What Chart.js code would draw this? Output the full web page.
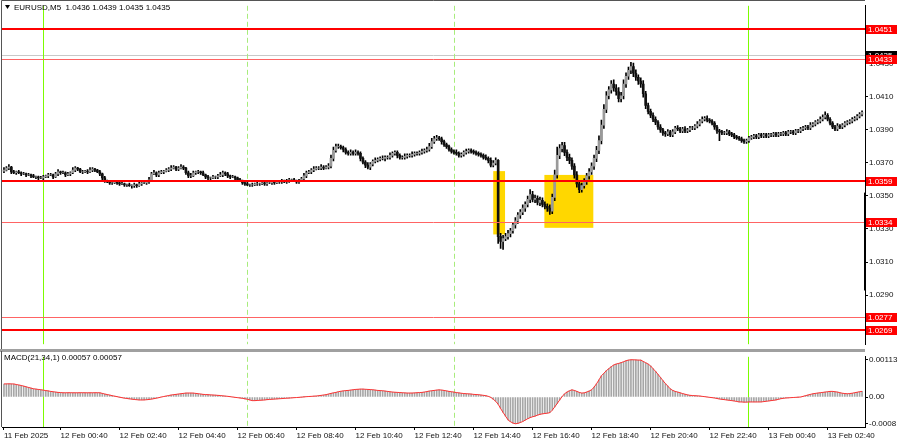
<!DOCTYPE html>
<html>
<head>
<meta charset="utf-8">
<script src="https://cdn.jsdelivr.net/npm/chart.js@4.4.1/dist/chart.umd.min.js"></script>
<style>
  body { margin: 0; background: #fff; }
  #wrap { position: relative; width: 900px; height: 441px; overflow: hidden; background: #fff; }
  #main { position: absolute; left: 0; top: 0; }
  #sep  { position: absolute; left: 0; top: 349px; width: 865px; height: 3px; background: #a0a0a0; }
  #macd { position: absolute; left: 0; top: 351px; }
</style>
</head>
<body>
<div id="wrap">
  <canvas id="main" width="900" height="350"></canvas>
  <div id="sep"></div>
  <canvas id="macd" width="900" height="90"></canvas>
</div>
<script>
// =========================
// DATA (EURUSD M5, prices in pips above BASE)
// =========================
const BASE = 1.03;
const firstOpen = 65.0;

const closes = [
  65.6,66.8,67.4,64.5,64.0,64.5,64.0,63.3,63.3,62.7,62.7,62.1,61.5,61.5,60.9,60.9,61.5,62.1,62.7,62.7,61.5,63.3,64.5,64.0,64.0,
  62.7,63.3,64.0,65.6,66.8,66.2,64.5,64.5,65.0,64.5,65.6,66.2,65.6,64.5,63.3,60.9,59.1,58.5,57.9,57.9,58.5,57.9,57.3,57.3,56.7,
  56.7,56.2,56.2,56.7,56.2,57.3,57.9,57.9,58.5,59.7,63.3,64.0,62.7,64.0,64.5,65.0,65.6,66.2,66.8,67.4,66.2,66.8,67.4,66.8,64.0,
  62.1,62.1,64.0,64.5,64.5,64.0,62.7,61.5,60.9,60.9,61.5,61.5,62.1,62.7,64.0,63.3,62.1,61.5,61.5,60.9,59.7,59.1,57.9,57.3,56.7,
  56.7,56.7,57.3,57.3,57.3,57.9,57.3,57.9,57.9,58.5,57.9,58.5,58.5,59.1,58.5,59.1,59.7,59.7,59.1,58.5,59.1,60.3,62.1,64.0,64.5,
  65.6,66.2,66.8,66.8,67.4,66.8,67.4,68.0,72.7,77.5,79.8,79.8,79.2,78.1,76.3,75.7,76.3,75.7,76.3,75.7,72.7,70.4,68.6,67.4,69.2,
  70.9,71.5,72.1,72.7,72.7,73.3,73.3,74.5,75.7,76.3,74.5,73.3,73.3,73.9,74.5,74.5,75.1,75.7,75.7,76.3,76.9,77.5,78.1,79.8,82.8,
  84.6,85.1,84.6,82.8,81.0,79.8,78.1,76.9,76.3,75.7,74.5,75.1,76.3,76.9,77.5,76.9,76.3,75.7,75.1,74.5,73.3,72.7,71.5,68.6,69.8,
  71.5,25.4,22.4,24.2,25.4,27.2,28.9,32.5,34.9,38.4,40.2,42.6,44.9,47.9,50.8,47.9,48.5,46.1,47.3,44.9,43.7,42.6,40.8,49.1,62.7,
  74.5,78.6,80.4,76.3,73.3,71.5,68.0,62.7,57.3,53.8,56.2,58.5,62.1,64.5,68.0,72.7,77.5,83.4,92.8,102.3,110.6,114.1,117.7,115.3,113.0,
  108.8,110.6,117.7,122.4,126.0,128.3,124.2,121.8,119.5,117.7,111.8,104.7,101.1,98.8,96.4,94.6,91.7,89.9,88.1,87.5,88.7,86.9,88.7,91.1,90.5,
  89.3,90.5,89.3,89.9,91.1,91.1,92.2,93.4,95.2,96.4,97.0,95.8,95.2,94.0,91.7,89.3,88.7,88.1,88.1,88.7,87.5,86.9,85.7,85.1,84.6,
  83.4,82.8,83.4,85.1,85.7,86.3,85.7,86.9,86.3,86.9,86.3,86.9,86.9,87.5,86.9,87.5,87.5,88.1,87.5,88.7,88.7,88.1,89.3,89.3,90.5,
  91.1,91.7,91.1,92.8,93.4,94.6,95.2,96.4,97.6,98.8,96.4,94.0,91.7,90.5,92.2,91.7,92.8,94.0,94.6,95.2,96.4,97.0,98.2,99.4,100.5
];

// wick lengths beyond the body, pips
const upperWick = [
  1.5,1,1.5,0.5,1,0.5,1,0.5,1,0.5,1,0.5,1,0.5,0.5,1,1,0.5,1,1,0.5,1,1.5,0.5,1,
  0.5,1,0.5,1.5,1,0.5,0.5,1,0.5,1,1.5,1,0.5,0.5,1,0.5,1,0.5,1,0.5,1,0.5,0.5,1,0.5,
  0.5,1,0.5,1,0.5,1,0.5,1,1,1.5,1,1.5,0.5,1,1,0.5,1,1,1.5,1,0.5,1,1.5,1,0.5,
  1,1.5,1,0.5,1,0.5,1,0.5,1,0.5,1,0.5,1,1.5,1,0.5,1,0.5,1,0.5,0.5,1,0.5,0.5,1,
  0.5,1,0.5,1,0.5,1,0.5,1,0.5,1,0.5,1,0.5,1,0.5,1,1,0.5,1,0.5,1,1,1.5,1,1,
  1,1.5,1,1,1.5,1,1,1.5,2,2,1.5,1.5,1,1,1,1,1.5,1,1.5,1,1,1,1,1.5,1,
  1,1.5,1,1,1.5,1,1,1.5,1,1,1,1,1,1.5,1,1,1.5,1,1,1,1.5,1,1.5,2,2,
  1.5,1.5,1,1,1,1,1,1,1,1.5,1,1,1,1.5,1,1,1,1,1,1,1,1.5,1,1.5,1.5,
  1.5,0.5,2,2,2,2,1.5,1.5,2,1.5,1.5,2,1.5,2,3,2,2,1.5,2,1.5,1.5,1.5,2,2,3,
  5,2.5,2,2,1.5,2,1.5,1.5,2,1.5,1.5,2,1.5,2,2,2,2.5,3,3,3,2.5,2,2,2.5,2,
  2.5,2,2.5,2,2,2.5,2,2,1.5,2,2,1.5,1.5,1.5,1.5,1.5,1,1.5,1,1,1.5,1,1.5,1,1.5,
  1,1,1.5,1,1,1,1,1.5,1,1.5,1,1.5,1,1,1,1,1,1,1,1.5,1,1,1,1,1,
  1,1,1,1,1,1,1,1,1,1,1,1,1,1,1,1,1,1,1,1,1,1,1,1,1,
  1,1,1,1.5,1,1,1,1.5,1.5,2,1,1,1,1,1.5,1,1,1,1,1,1,1,1,1,1
];
const lowerWick = [
  1,0.5,1,1,0.5,1,0.5,1,0.5,1,0.5,1,0.5,1,1,0.5,1,0.5,1,0.5,1,0.5,1,1,0.5,
  1,0.5,1,0.5,1,1,0.5,1,0.5,1,0.5,1,1,0.5,1,1.5,1,0.5,1,1,0.5,1,1,0.5,1,
  1,0.5,1.5,1,1,0.5,1,0.5,1,1,1,0.5,1,1,0.5,1,0.5,1,1,0.5,1,1,0.5,1,1,
  1,1,0.5,1,1,1,0.5,1,1,1,0.5,1,1,0.5,1,1,1,1,0.5,1,1,0.5,1,1,0.5,
  1,1,0.5,1,1,0.5,1,1,0.5,1,1,0.5,1,1,0.5,1,1,1,0.5,1,1,0.5,1,1,0.5,
  1,1,0.5,1,1,1,0.5,1,1,1.5,1,1,1,1.5,1,1,1,1,1,1,1.5,1,1.5,1,1.5,
  1,1,1,1,1,1.5,1,1,1,1,1.5,1,1,1,1,1,1,1,1,1,1,1,1,1,1,
  1,1,1,1.5,1,1,1,1,1,1,1,1,1,1,1,1,1,1,1,1,1,1,1.5,1,1,
  1,4.2,4.1,4.7,1.2,1.5,2,1.5,2,1.5,2,1.5,2,1.5,2,1.5,2,1.5,2,1.5,1.5,2,2,1.5,2,
  2,2,2,2,2,2,2,2,2,1.8,1.5,1.5,1.5,2,1.5,2,2,2,2,2,2,2,2,2,2,
  2,2,2,2,2,2,2,2,2,2,2,2,1.5,1.5,1.5,1.5,1.5,1.5,1.5,1.5,1,1,1,1,1,
  1,1,1,1,1,1,1,1,1,1,1,1,1,1,1.5,1.5,5.3,1,1,1,1,1,1,1,1,
  1,1,1,1,1,1,1,1,1,1,1,1,1,1,1,1,1,1,1,1,1,1,1,1,1,
  1,1,1,1,1,1,1,1,1,1,1,1,1,1,1,1,1,1,1,1,1,1,1,1,1
];

// MACD(21,34,1) in units of 0.00001
const macdE5 = [
  39.6,39.8,40,39.7,39.6,38,36.5,35,33,31,29,27,25,24,23,22,20.8,19.5,18.5,17,16,15,14,13.5,12.8,
  12.8,13,13,12.8,12.8,12.8,13,13,12.8,12.8,12.8,12.8,13,13,12.8,11,9,7.5,5.9,4,2.5,1,-0.5,-2.1,-3.5,
  -4.5,-5.5,-6.5,-7.5,-8.3,-8.9,-9,-8.8,-8.3,-7.5,-6.3,-5.1,-3.5,-2,0,1.5,3,4.5,6,7,8,9,10,11,11.9,
  12,12,11.8,11,10,9,8,7.5,7,6.5,6,5.5,5,4.5,3.5,2.8,2.1,1,0,-1,-2,-3,-4,-5.5,-6.8,
  -9,-11,-11,-10.5,-10,-9.5,-9,-8,-7.5,-6.8,-6.3,-5.8,-5.3,-4.8,-4.2,-3.7,-3.2,-2.6,-2.1,-1.6,-1,-0.3,0.3,1,1.5,
  2,2.5,3,4,5,6,7,9,11,12.5,14,16,17.5,18.5,19.5,20,21,22,23,23.5,24,24,23.5,23,22.5,
  22,21,20,19.5,19,18,17,16,15,14.5,14,13.5,13,12.5,12,12,12,12.5,13,13.5,14,15,16.5,18,19,
  20,21,21.7,21,20,18.5,17,16,14.9,13.5,12.5,11.5,10.5,10,9.5,9,8,7.5,7,6,5.1,4,2,-1,-6.8,
  -13,-22,-34.8,-47,-58,-69.3,-75,-79,-81.2,-80,-77.5,-74.4,-70,-66,-62.5,-60,-58,-55,-52.6,-51,-50,-49,-47.6,-40,-30,
  -19.9,-9,1,9.8,15,19,21.7,20,17,14,11.9,12.5,15,18,21.7,30,40,52,64.5,72,80,86,92,97.2,100,
  102,104.1,107,110,112,113,113,112.5,112,112,108,104,100,94.3,86,78,69,59.5,50,41,33,24.7,20,17,15,
  12.8,10.5,8.5,6.5,5.1,4.5,4,3.5,3,2,1,0,-1,-2,-3,-4.5,-6,-7,-8,-9,-10,-11,-12,-13.5,-14.9,
  -15,-15.5,-15.5,-15,-15,-15,-15,-15,-14.9,-14,-13,-12,-11,-10,-8.9,-7,-5.1,-4,-3,-2.5,-2,-1.5,-1,-0.5,0,
  2,4,6,8,9.8,11,12,13,14,15,16,17,17,16,15,13,11.5,10.5,9.8,10.5,11.5,13,14.5,16,17
];

const priceTicks = [1.0290, 1.0310, 1.0330, 1.0350, 1.0370, 1.0390, 1.0410, 1.0430, 1.0450];
const strongLevels = [1.0451, 1.0359, 1.0269];
const lightLevels  = [1.0433, 1.0334, 1.0277];
const bidPrice = 1.0435;
const rightEdgeBar = [1.02928, 1.0352];

const timeTicks  = [0, 23, 47, 71, 95, 119, 143, 167, 191, 215, 239, 263, 287, 311, 335];
const timeLabels = ["11 Feb 2025", "12 Feb 00:40", "12 Feb 02:40", "12 Feb 04:40", "12 Feb 06:40",
  "12 Feb 08:40", "12 Feb 10:40", "12 Feb 12:40", "12 Feb 14:40", "12 Feb 16:40", "12 Feb 18:40",
  "12 Feb 20:40", "12 Feb 22:40", "13 Feb 00:40", "13 Feb 02:40"];

const dayLines     = [16, 302.6];
const sessionLines = [99, 183];
// [bar from, bar to, price low, price high]
const boxes = [[199, 203.8, 1.03267, 1.03650], [219.8, 239.7, 1.03307, 1.03627]];

const macdTicks      = [113, 0, -80];
const macdTickLabels = ["0.00113", "0.00", "-0.0008"];

const title     = "EURUSD,M5  1.0436 1.0439 1.0435 1.0435";
const macdTitle = "MACD(21,34,1) 0.00057 0.00057";

// =========================
// CANDLES
// =========================
const wicks = [], bodies = [], bodyColors = [];
closes.forEach((c, i) => {
  const o = i ? closes[i - 1] : firstOpen;
  const hi = Math.max(o, c) + upperWick[i];
  const lo = Math.min(o, c) - lowerWick[i];
  wicks.push({ x: i, y: [BASE + lo / 1e4, BASE + hi / 1e4] });
  bodies.push({ x: i, y: [BASE + o / 1e4, BASE + c / 1e4] });
  bodyColors.push(c >= o ? "#9a9a9a" : "#111111");
});

const FONT = "'Liberation Sans', Arial, sans-serif";
Chart.defaults.font.family = FONT;
Chart.defaults.font.size = 8;
Chart.defaults.color = "#000";

const X_MIN = -0.8, X_MAX = 350.2;

function vline(ctx, x, a, color, width, dash) {
  ctx.save();
  ctx.strokeStyle = color;
  ctx.lineWidth = width;
  ctx.setLineDash(dash || []);
  ctx.beginPath();
  ctx.moveTo(x, a.top);
  ctx.lineTo(x, a.bottom);
  ctx.stroke();
  ctx.restore();
}

function hline(ctx, y, a, color, width) {
  ctx.save();
  ctx.strokeStyle = color;
  ctx.lineWidth = width;
  ctx.beginPath();
  ctx.moveTo(a.left, y);
  ctx.lineTo(a.right, y);
  ctx.stroke();
  ctx.restore();
}

function priceTag(ctx, y, text, bg) {
  ctx.save();
  ctx.fillStyle = bg;
  ctx.fillRect(866, Math.round(y) - 4, 31, 9);
  ctx.fillStyle = "#fff";
  ctx.font = "8px " + FONT;
  ctx.textBaseline = "middle";
  ctx.fillText(text, 868, Math.round(y) + 0.5);
  ctx.restore();
}

// =========================
// MAIN PANEL OVERLAYS
// =========================
const mainOverlay = {
  id: "mainOverlay",
  beforeDatasetsDraw(chart) {
    const { ctx, chartArea: a, scales: { x, y } } = chart;
    ctx.save();
    ctx.fillStyle = "#ffd700";
    boxes.forEach(([i0, i1, p0, p1]) => {
      const x0 = x.getPixelForValue(i0), x1 = x.getPixelForValue(i1);
      const y0 = y.getPixelForValue(p1), y1 = y.getPixelForValue(p0);
      ctx.fillRect(x0, y0, x1 - x0, y1 - y0);
    });
    ctx.restore();
    hline(ctx, Math.round(y.getPixelForValue(bidPrice)) + 0.5, a, "#c8c8c8", 1);
    dayLines.forEach(v => vline(ctx, Math.round(x.getPixelForValue(v)) + 0.5, a, "#7cfc00", 1));
    sessionLines.forEach(v => vline(ctx, Math.round(x.getPixelForValue(v)) + 0.5, a, "#a8ec7c", 1, [5, 3]));
  },
  afterDatasetsDraw(chart) {
    const { ctx, chartArea: a, scales: { y } } = chart;
    lightLevels.forEach(v => hline(ctx, Math.round(y.getPixelForValue(v)) + 0.5, a, "#ff6464", 1));
    strongLevels.forEach(v => hline(ctx, Math.round(y.getPixelForValue(v)), a, "#ff0000", 2));
  },
  afterDraw(chart) {
    const { ctx, chartArea: a, scales: { y } } = chart;
    // frame
    ctx.save();
    ctx.strokeStyle = "#555";
    ctx.lineWidth = 1;
    ctx.beginPath();
    ctx.moveTo(1.5, 350);
    ctx.lineTo(1.5, 0.5);
    ctx.lineTo(a.right, 0.5);
    ctx.stroke();
    // odd bar on the price scale edge
    ctx.fillStyle = "#000";
    const yt = y.getPixelForValue(rightEdgeBar[1]), yb = y.getPixelForValue(rightEdgeBar[0]);
    ctx.fillRect(a.right - 1, yt, 2, yb - yt);
    ctx.restore();

    priceTag(ctx, y.getPixelForValue(bidPrice), bidPrice.toFixed(4), "#000");
    [...strongLevels, ...lightLevels]
      .sort((p, q) => q - p)
      .forEach(v => priceTag(ctx, y.getPixelForValue(v), v.toFixed(4), "#ff0000"));

    // title
    ctx.save();
    ctx.fillStyle = "#000";
    ctx.beginPath();
    ctx.moveTo(5, 5); ctx.lineTo(10, 5); ctx.lineTo(7.5, 9); ctx.closePath();
    ctx.fill();
    ctx.font = "8px " + FONT;
    ctx.textBaseline = "middle";
    ctx.fillText(title, 14, 7.5);
    ctx.restore();
  }
};

new Chart(document.getElementById("main"), {
  type: "bar",
  data: {
    datasets: [
      {
        data: bodies,
        backgroundColor: bodyColors,
        barThickness: 2,
        grouped: false,
        borderSkipped: false
      },
      {
        data: wicks,
        backgroundColor: "#000",
        barThickness: 1,
        grouped: false,
        borderSkipped: false
      }
    ]
  },
  options: {
    responsive: false,
    animation: false,
    devicePixelRatio: 1,
    layout: { padding: { left: 2, top: 2, right: 0, bottom: 2 } },
    plugins: { legend: { display: false }, tooltip: { enabled: false } },
    scales: {
      x: { type: "linear", min: X_MIN, max: X_MAX, offset: false, grid: { offset: false }, display: false },
      y: {
        position: "right",
        min: 1.02603,
        max: 1.04650,
        afterFit: s => { s.width = 35; },
        afterBuildTicks: s => { s.ticks = priceTicks.map(v => ({ value: v })); },
        ticks: { callback: v => Number(v).toFixed(4), padding: 1, font: { size: 8 }, color: "#111" },
        grid: { drawOnChartArea: false, drawTicks: true, tickLength: 3, color: "#000" },
        border: { display: true, color: "#000" }
      }
    }
  },
  plugins: [mainOverlay]
});

// =========================
// MACD PANEL
// =========================
const macdOverlay = {
  id: "macdOverlay",
  beforeDatasetsDraw(chart) {
    const { ctx, chartArea: a, scales: { x } } = chart;
    dayLines.forEach(v => vline(ctx, Math.round(x.getPixelForValue(v)) + 0.5, a, "#7cfc00", 1));
    sessionLines.forEach(v => vline(ctx, Math.round(x.getPixelForValue(v)) + 0.5, a, "#a8ec7c", 1, [5, 3]));
  },
  afterDraw(chart) {
    const { ctx, chartArea: a } = chart;
    ctx.save();
    ctx.strokeStyle = "#555";
    ctx.beginPath();
    ctx.moveTo(1.5, 0);
    ctx.lineTo(1.5, a.bottom);
    ctx.stroke();
    ctx.fillStyle = "#000";
    ctx.font = "8px " + FONT;
    ctx.textBaseline = "middle";
    ctx.fillText(macdTitle, 4, 6.5);
    ctx.restore();
  }
};

new Chart(document.getElementById("macd"), {
  type: "bar",
  data: {
    datasets: [
      {
        type: "line",
        data: macdE5.map((v, i) => ({ x: i, y: v })),
        borderColor: "#ff3030",
        borderWidth: 1,
        pointRadius: 0,
        tension: 0
      },
      {
        data: macdE5.map((v, i) => ({ x: i, y: v })),
        backgroundColor: "#a6a6a6",
        barThickness: 1
      }
    ]
  },
  options: {
    responsive: false,
    animation: false,
    devicePixelRatio: 1,
    layout: { padding: { left: 2, top: 1, right: 0, bottom: 0 } },
    plugins: { legend: { display: false }, tooltip: { enabled: false } },
    scales: {
      x: {
        type: "linear",
        min: X_MIN,
        max: X_MAX,
        offset: false,
        afterFit: s => { s.height = 14; },
        afterBuildTicks: s => { s.ticks = timeTicks.map(v => ({ value: v })); },
        ticks: {
          autoSkip: false,
          maxRotation: 0,
          align: "start",
          padding: 1,
          callback: v => timeLabels[timeTicks.indexOf(v)],
          font: { size: 8 },
          color: "#111"
        },
        grid: { offset: false, drawOnChartArea: false, drawTicks: true, tickLength: 3, color: "#000" },
        border: { display: true, color: "#000" }
      },
      y: {
        position: "right",
        min: -91,
        max: 122,
        afterFit: s => { s.width = 35; },
        afterBuildTicks: s => { s.ticks = macdTicks.map(v => ({ value: v })); },
        ticks: {
          callback: v => macdTickLabels[macdTicks.indexOf(v)],
          padding: 1,
          font: { size: 8 },
          color: "#111"
        },
        grid: { drawOnChartArea: false, drawTicks: true, tickLength: 3, color: "#000" },
        border: { display: true, color: "#000" }
      }
    }
  },
  plugins: [macdOverlay]
});
</script>
</body>
</html>
